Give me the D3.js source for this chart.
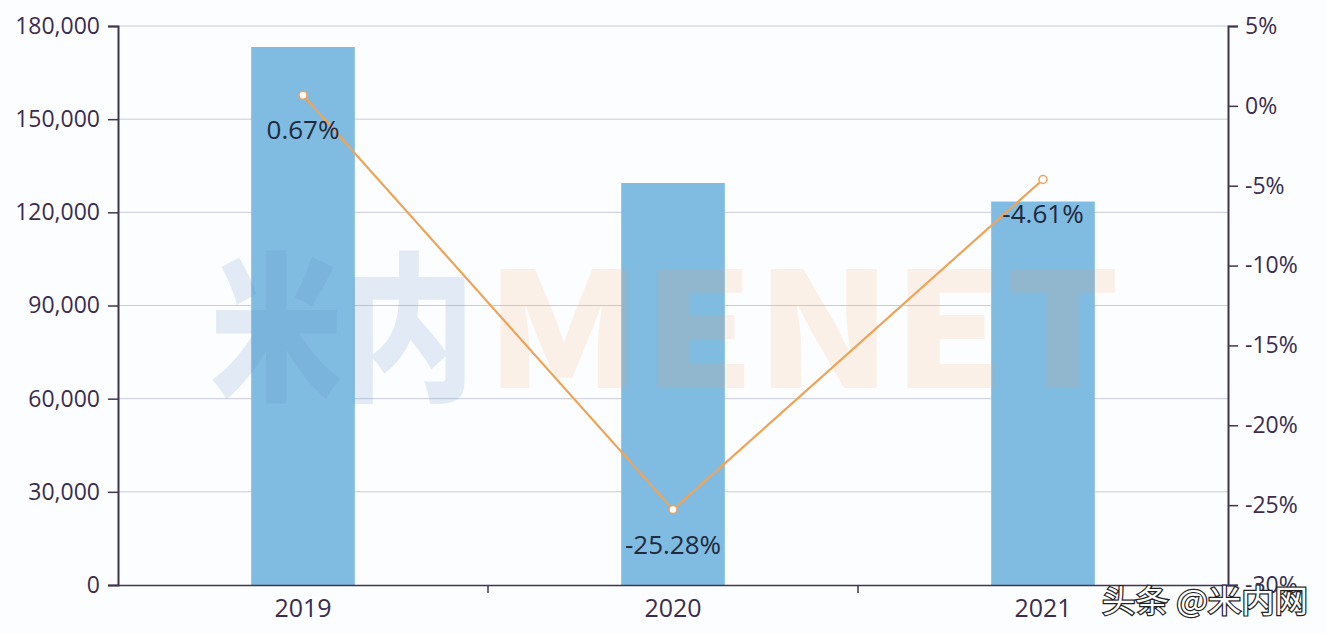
<!DOCTYPE html>
<html><head><meta charset="utf-8">
<script src="https://cdn.jsdelivr.net/npm/d3@7"></script>
<style>body{margin:0;background:#fff;}svg{display:block;}</style>
</head><body>
<svg id="c" width="1326" height="634"></svg>
<script>
const years = ["2019", "2020", "2021"];
const volumes = [173240, 129440, 123480];
const growth = [0.67, -25.28, -4.61];
const growthLabels = ["0.67%", "-25.28%", "-4.61%"];
const leftTicks = [0, 30000, 60000, 90000, 120000, 150000, 180000];
const rightTicks = [5, 0, -5, -10, -15, -20, -25, -30];

const svg = d3.select("#c");
const W = 1326, H = 634;
const m = {l: 118, r: 98, t: 26, b: 49};
const x = d3.scaleBand().domain(years).range([m.l, W - m.r]).paddingInner(0.72).paddingOuter(0.36);
const xb = d3.scaleBand().domain(years).range([m.l, W - m.r]);
const yL = d3.scaleLinear().domain([0, 180000]).range([H - m.b, m.t]);
const yR = d3.scaleLinear().domain([-30, 5]).range([H - m.b, m.t]);
const font = "'Open Sans', 'Noto Sans', sans-serif";

svg.append("rect").attr("width", W).attr("height", H).attr("fill", "#fcfdfe");

// gridlines
svg.append("g").selectAll("line").data(leftTicks.filter(d => d > 0)).join("line")
  .attr("x1", m.l).attr("x2", W - m.r).attr("y1", d => yL(d)).attr("y2", d => yL(d))
  .attr("stroke", "#c9cdd8").attr("stroke-width", 1);

// bars
svg.append("g").selectAll("rect").data(years).join("rect")
  .attr("x", d => x(d)).attr("width", x.bandwidth())
  .attr("y", (d, i) => yL(volumes[i])).attr("height", (d, i) => yL(0) - yL(volumes[i]))
  .attr("fill", "#80bbe2");

// watermark
const wmFont = "'Noto Sans CJK SC', 'DejaVu Sans', sans-serif";
svg.append("text").attr("x", 210).attr("y", 388).attr("font-family", wmFont).attr("font-weight", 900)
  .attr("font-size", 160).attr("textLength", 265).attr("lengthAdjust", "spacingAndGlyphs")
  .attr("fill", "#5b8fc4").attr("fill-opacity", 0.16).text("米内");
svg.append("text").attr("x", 485).attr("y", 388).attr("font-family", wmFont).attr("font-weight", 900)
  .attr("font-size", 160).attr("textLength", 635).attr("lengthAdjust", "spacingAndGlyphs")
  .attr("fill", "#f5a05a").attr("fill-opacity", 0.14).text("MENET");

// axes
const axisColor = "#3f3550";
const textColor = "#3a2d4f";
const gl = svg.append("g").attr("transform", `translate(${m.l},0)`)
  .call(d3.axisLeft(yL).tickValues(leftTicks).tickFormat(d3.format(",")).tickSizeOuter(0).tickSize(10).tickPadding(8));
const gr = svg.append("g").attr("transform", `translate(${W - m.r},0)`)
  .call(d3.axisRight(yR).tickValues(rightTicks).tickFormat(d => d + "%").tickSizeOuter(0).tickSize(10).tickPadding(7));
const gx = svg.append("g").attr("transform", `translate(0,${H - m.b})`)
  .call(d3.axisBottom(xb).tickSize(0).tickPadding(14).tickSizeOuter(0));
svg.append("g").selectAll("line").data(years.slice(1)).join("line")
  .attr("x1", d => xb(d)).attr("x2", d => xb(d)).attr("y1", H - m.b).attr("y2", H - m.b + 8)
  .attr("stroke", axisColor).attr("stroke-width", 1.5);
[gl, gr, gx].forEach(g => {
  g.selectAll("path,line").attr("stroke", axisColor).attr("stroke-width", 1.5);
  g.selectAll("text").attr("fill", textColor).attr("font-size", 23)
    .attr("font-family", font);
});
gx.selectAll("text").attr("font-size", 25);
gl.select(".domain").attr("stroke-width", 2);
gr.select(".domain").attr("stroke-width", 2);

// line
const cx = d => xb(d) + xb.bandwidth() / 2;
svg.append("path").datum(years)
  .attr("d", d3.line().x(d => cx(d)).y((d, i) => yR(growth[i])))
  .attr("fill", "none").attr("stroke", "#eea458").attr("stroke-width", 2.2);
svg.append("g").selectAll("circle").data(years).join("circle")
  .attr("cx", d => cx(d)).attr("cy", (d, i) => yR(growth[i])).attr("r", 4)
  .attr("fill", "#fff").attr("stroke", "#e9a262").attr("stroke-width", 1.5);

// data labels
svg.append("g").selectAll("text").data(years).join("text")
  .attr("x", d => cx(d)).attr("y", (d, i) => yR(growth[i]) + 44)
  .attr("text-anchor", "middle").attr("font-size", 26)
  .attr("font-family", font)
  .attr("fill", "#1f2a3d").text((d, i) => growthLabels[i]);

// source stamp
svg.append("text").attr("x", 1205).attr("y", 612).attr("text-anchor", "middle")
  .attr("font-family", "'Noto Sans CJK SC', sans-serif").attr("font-size", 31)
  .attr("textLength", 206).attr("lengthAdjust", "spacingAndGlyphs")
  .attr("fill", "#fff").attr("stroke", "#222").attr("stroke-width", 2.4).attr("paint-order", "stroke")
  .text("头条 @米内网");
</script>
</body></html>
